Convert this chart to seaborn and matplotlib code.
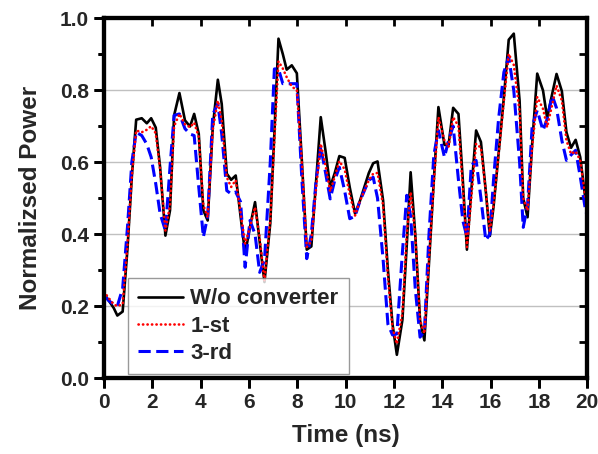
import numpy as np
import pandas as pd
import matplotlib
matplotlib.use("Agg")
import matplotlib.pyplot as plt
import matplotlib.lines as mlines
import seaborn as sns

time_ns = [0.00, 0.20, 0.40, 0.55, 0.77, 0.97, 1.15, 1.33, 1.56, 1.77,
           1.95, 2.14, 2.32, 2.54, 2.73, 2.90, 3.12, 3.35, 3.56, 3.73,
           3.92, 4.11, 4.29, 4.50, 4.71, 4.87, 5.08, 5.26, 5.45, 5.65,
           5.84, 6.04, 6.25, 6.44, 6.64, 6.88, 7.05, 7.22, 7.40, 7.56,
           7.77, 7.98, 8.19, 8.39, 8.58, 8.78, 8.97, 9.17, 9.36, 9.55,
           9.74, 9.96, 10.17, 10.39, 10.58, 10.77, 10.96, 11.14, 11.32, 11.55,
           11.75, 11.94, 12.12, 12.35, 12.53, 12.69, 12.88, 13.08, 13.26, 13.45,
           13.65, 13.84, 14.09, 14.26, 14.45, 14.67, 14.85, 15.02, 15.20, 15.40,
           15.60, 15.80, 15.97, 16.12, 16.33, 16.55, 16.75, 16.96, 17.20, 17.35,
           17.53, 17.72, 17.93, 18.17, 18.34, 18.55, 18.73, 18.95, 19.14, 19.33,
           19.52, 19.71, 19.92, 20.00]

# W/o converter
p_none = [0.235, 0.215, 0.195, 0.174, 0.185, 0.36, 0.56, 0.718, 0.722, 0.708,
          0.722, 0.696, 0.586, 0.396, 0.466, 0.730, 0.792, 0.716, 0.699, 0.734,
          0.679, 0.466, 0.438, 0.697, 0.829, 0.762, 0.568, 0.551, 0.563, 0.45,
          0.346, 0.42, 0.489, 0.38, 0.267, 0.43, 0.68, 0.943, 0.90, 0.857,
          0.869, 0.847, 0.60, 0.357, 0.366, 0.55, 0.725, 0.63, 0.531, 0.57,
          0.617, 0.612, 0.53, 0.457, 0.49, 0.53, 0.57, 0.597, 0.602, 0.494,
          0.30, 0.15, 0.065, 0.162, 0.37, 0.572, 0.401, 0.160, 0.105, 0.32,
          0.55, 0.753, 0.648, 0.648, 0.751, 0.734, 0.55, 0.357, 0.52, 0.688,
          0.656, 0.52, 0.395, 0.475, 0.623, 0.78, 0.940, 0.957, 0.771, 0.50,
          0.447, 0.65, 0.846, 0.799, 0.723, 0.79, 0.845, 0.797, 0.683, 0.640,
          0.662, 0.614, 0.50, 0.47]

# 1-st
p_first = [0.240, 0.222, 0.205, 0.200, 0.205, 0.37, 0.56, 0.688, 0.683, 0.690,
           0.700, 0.680, 0.580, 0.410, 0.480, 0.700, 0.734, 0.705, 0.697, 0.710,
           0.670, 0.480, 0.447, 0.690, 0.771, 0.716, 0.558, 0.531, 0.550, 0.46,
           0.373, 0.42, 0.475, 0.39, 0.271, 0.44, 0.66, 0.880, 0.86, 0.836,
           0.810, 0.800, 0.60, 0.364, 0.380, 0.53, 0.651, 0.59, 0.519, 0.56,
           0.603, 0.58, 0.51, 0.452, 0.49, 0.52, 0.55, 0.568, 0.570, 0.48,
           0.28, 0.14, 0.095, 0.18, 0.40, 0.517, 0.40, 0.160, 0.124, 0.33,
           0.54, 0.725, 0.66, 0.642, 0.725, 0.70, 0.53, 0.364, 0.50, 0.651,
           0.640, 0.52, 0.406, 0.48, 0.62, 0.77, 0.901, 0.87, 0.74, 0.50,
           0.466, 0.64, 0.781, 0.748, 0.697, 0.76, 0.813, 0.771, 0.66, 0.623,
           0.630, 0.605, 0.503, 0.48]

# 3-rd
p_third = [0.230, 0.215, 0.205, 0.200, 0.250, 0.42, 0.60, 0.683, 0.674, 0.65,
           0.614, 0.54, 0.457, 0.41, 0.586, 0.730, 0.734, 0.693, 0.678, 0.674,
           0.531, 0.392, 0.45, 0.733, 0.762, 0.679, 0.521, 0.512, 0.517, 0.49,
           0.308, 0.438, 0.40, 0.294, 0.327, 0.60, 0.859, 0.859, 0.818, 0.818,
           0.818, 0.818, 0.55, 0.332, 0.40, 0.55, 0.642, 0.57, 0.498, 0.55,
           0.586, 0.52, 0.443, 0.45, 0.49, 0.52, 0.55, 0.558, 0.50, 0.33,
           0.15, 0.12, 0.123, 0.35, 0.508, 0.45, 0.25, 0.114, 0.13, 0.40,
           0.62, 0.688, 0.614, 0.66, 0.70, 0.55, 0.438, 0.392, 0.59, 0.605,
           0.50, 0.383, 0.40, 0.55, 0.72, 0.85, 0.892, 0.799, 0.60, 0.419,
           0.48, 0.70, 0.744, 0.688, 0.72, 0.785, 0.75, 0.66, 0.605, 0.620,
           0.633, 0.56, 0.47, 0.45]

x_ticks = [0, 2, 4, 6, 8, 10, 12, 14, 16, 18, 20]
y_ticks = [0.0, 0.2, 0.4, 0.6, 0.8, 1.0]
y_minor = [0.1, 0.3, 0.5, 0.7, 0.9]

df = pd.DataFrame({"time": time_ns, "none": p_none, "first": p_first, "third": p_third})

sns.set_theme(style="ticks")
plt.rcParams["font.family"] = ["Liberation Sans", "DejaVu Sans"]
plt.rcParams["font.weight"] = "bold"

fig = plt.figure(figsize=(5.98, 4.54), dpi=100)
ax = fig.add_axes([0.174, 0.167, 0.808, 0.793])

sns.lineplot(ax=ax, data=df, x="time", y="none", color="black", lw=1.9,
             label="W/o converter", zorder=3)
sns.lineplot(ax=ax, data=df, x="time", y="first", color="#ff0000", lw=1.9,
             linestyle=(0, (0.1, 1.6)), dash_capstyle="round", label="1-st", zorder=4)
sns.lineplot(ax=ax, data=df, x="time", y="third", color="#0000ff", lw=2.2,
             linestyle=(0, (4.0, 1.8)), label="3-rd", zorder=3.5)

ax.set_xlim(0, 20)
ax.set_ylim(0, 1.0)
ax.set_xticks(x_ticks)
ax.set_yticks(y_ticks)
ax.set_yticks(y_minor, minor=True)
ax.set_yticklabels([f"{v:.1f}" for v in y_ticks])
ax.yaxis.grid(True, which="major", color="#c0c0c0", linewidth=1.0)
ax.xaxis.grid(False)

ax.tick_params(axis="both", which="major", direction="out", width=2.0, length=7,
               pad=4, bottom=True, left=True, top=True, right=True,
               labeltop=False, labelright=False, color="#000000")
ax.tick_params(axis="both", which="major", labelsize=15)
ax.tick_params(axis="y", which="minor", direction="out", width=2.0, length=4,
               left=True, right=True, color="#000000")
for lab in ax.get_xticklabels() + ax.get_yticklabels():
    lab.set_fontweight("bold")

# top and right ticks point inward, like the original
for t in ax.xaxis.get_major_ticks():
    t.tick2line.set_marker(mlines.TICKDOWN)
    t.tick2line.set_markersize(6)
for t in ax.yaxis.get_major_ticks() + ax.yaxis.get_minor_ticks():
    t.tick2line.set_marker(mlines.TICKLEFT)
    t.tick2line.set_markersize(6)

for sp in ax.spines.values():
    sp.set_linewidth(3.0)
    sp.set_color("#000000")

ax.set_xlabel("Time (ns)", fontsize=17.5, fontweight="bold", labelpad=8)
ax.set_ylabel("Normalizsed Power", fontsize=17.5, fontweight="bold", labelpad=13)

leg = ax.legend(loc="lower left", bbox_to_anchor=(0.05, 0.012), borderaxespad=0,
                frameon=True, fancybox=False, edgecolor="#808080",
                prop={"size": 16, "weight": "bold"}, handlelength=2.0,
                borderpad=0.45, labelspacing=0.28, handletextpad=0.35)
leg.get_frame().set_linewidth(1.0)

# heavy frame and outward bottom/left ticks drawn unclipped on top
frame_kw = dict(color="black", lw=3.0, clip_on=False, zorder=10,
                solid_capstyle="projecting", transform=ax.transAxes)
ax.plot([0, 1], [0, 0], **frame_kw)
ax.plot([0, 1], [1, 1], **frame_kw)
ax.plot([0, 0], [0, 1], **frame_kw)
ax.plot([1, 1], [0, 1], **frame_kw)
ax.plot(x_ticks, [0.0] * len(x_ticks), ls="none", marker=mlines.TICKDOWN,
        ms=7, mew=2.0, color="black", clip_on=False, zorder=10)
ax.plot([0.0] * len(y_ticks), y_ticks, ls="none", marker=mlines.TICKLEFT,
        ms=7, mew=2.0, color="black", clip_on=False, zorder=10)
ax.plot([0.0] * len(y_minor), y_minor, ls="none", marker=mlines.TICKLEFT,
        ms=4, mew=2.0, color="black", clip_on=False, zorder=10)
ax.set_xlim(0, 20)
ax.set_ylim(0, 1.0)

fig.savefig("out.png", dpi=100)
